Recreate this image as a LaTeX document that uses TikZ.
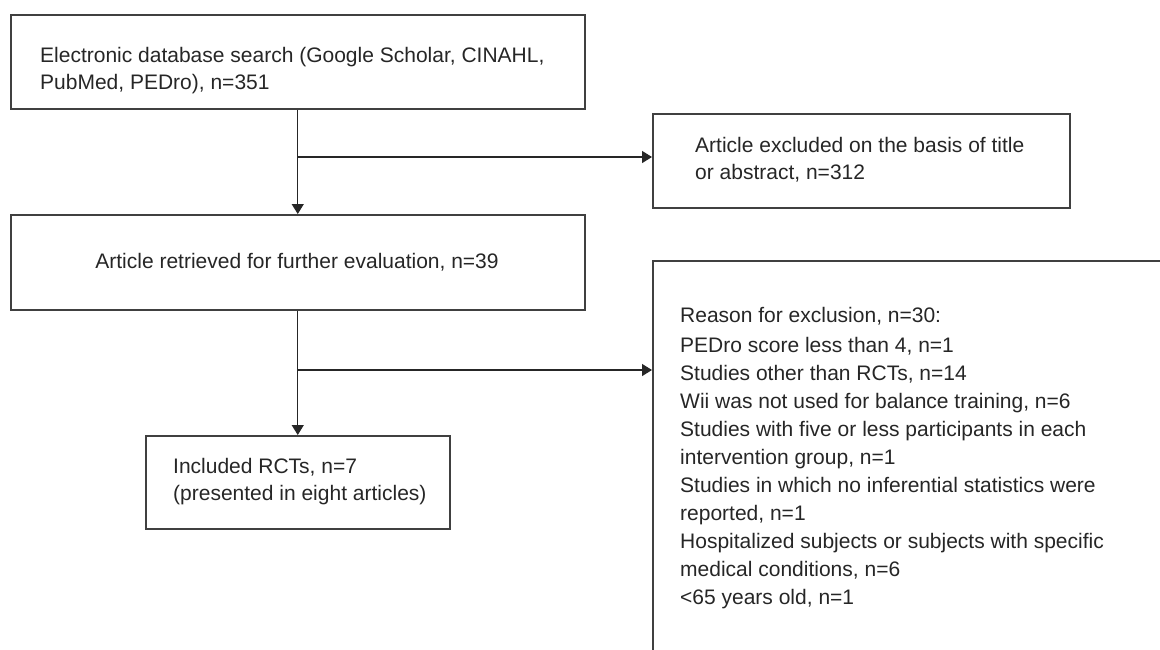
\documentclass[tikz,border=0pt]{standalone}
\usepackage{fontspec}
\setmainfont{Liberation Sans}
\usetikzlibrary{arrows.meta}
\begin{document}
\begin{tikzpicture}[x=1pt,y=-1pt,
	box/.style={draw=black!75,line width=1.5pt,anchor=north west,inner sep=0pt},
	txt/.style={anchor=base west,align=left,inner sep=0pt,text=black!85,font=\fontsize{21}{27}\selectfont},
	link/.style={draw=black!85,line width=1.3pt},
	arr/.style={link,-{Triangle[length=10pt,width=12pt]}}]
	\useasboundingbox (0,0) rectangle (1160,649);
	\clip (0,0) rectangle (1160,649);
	\def\mx{297}
	% boxes
	\path
	(10,14) node[box,minimum width=574,minimum height=94] (search) {}
	(10,214) node[box,minimum width=574,minimum height=95] (retrieved) {}
	(652,113) node[box,minimum width=417,minimum height=94] (excluded) {}
	(145,435) node[box,minimum width=304,minimum height=93] (included) {}
	(652,260) node[box,minimum width=600,minimum height=500] (reasons) {};
	% texts (base = last line)
	\path
	(40,89) node[txt] (searchtxt) {Electronic database search (Google Scholar, CINAHL,\\PubMed, PEDro), n=351}
	(\mx,268) node[txt,anchor=base] (retrievedtxt) {Article retrieved for further evaluation, n=39}
	(695,179) node[txt] (excludedtxt) {Article excluded on the basis of title\\or abstract, n=312}
	(173,500) node[txt] (includedtxt) {Included RCTs, n=7\\(presented in eight articles)}
	(680,604) node[txt,font=\fontsize{21}{28}\selectfont] (reasonstxt) {Reason for exclusion, n=30:\\[2pt]
		PEDro score less than 4, n=1\\
		Studies other than RCTs, n=14\\
		Wii was not used for balance training, n=6\\
		Studies with five or less participants in each\\
		intervention group, n=1\\
		Studies in which no inferential statistics were\\
		reported, n=1\\
		Hospitalized subjects or subjects with specific\\
		medical conditions, n=6\\
		<65 years old, n=1};
	% connectors
	\coordinate (fork1) at (\mx,157);
	\coordinate (fork2) at (\mx,370);
	\draw[arr] (search.south) -- (retrieved.north);
	\draw[arr] (fork1) -- (fork1 -| excluded.west);
	\draw[arr] (retrieved.south) -- (included.north);
	\draw[arr] (fork2) -- (fork2 -| reasons.west);
\end{tikzpicture}
\end{document}
